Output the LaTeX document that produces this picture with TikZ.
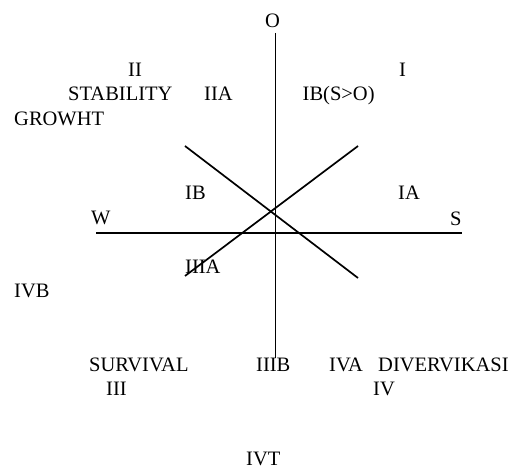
\documentclass[tikz,border=0pt]{standalone}
\usepackage{fontspec}
\setmainfont{Liberation Serif}
\begin{document}
\begin{tikzpicture}[x=1pt,y=-1pt,
  lbl/.style={anchor=base west,inner sep=0pt,font=\fontsize{20.5}{24}\selectfont},
  axis/.style={line width=1.7pt,black}]
\useasboundingbox (0,0) rectangle (520,470);
% axis end points
\coordinate (vt) at (275.5,33);
\coordinate (vb) at (275.5,358);
\coordinate (hl) at (96,233);
\coordinate (hr) at (462,233);
\coordinate (d1a) at (185,146);
\coordinate (d1b) at (358,278);
\coordinate (d2a) at (358,146);
\coordinate (d2b) at (185,276);
\draw[axis] (vt) -- (vb);
\draw[axis] (hl) -- (hr);
\draw[axis] (d1a) -- (d1b);
\draw[axis] (d2a) -- (d2b);
% labels
\node[lbl] (o) at (265,28) {O};
\node[lbl] (i) at (399,77) {I};
\node[lbl] (ibso) at (302.5,101) {IB(S>O)};
\node[lbl] (ii) at (128,77) {II};
\node[lbl] (stab) at (68,101) {STABILITY};
\node[lbl] (iia) at (204,101) {IIA};
\node[lbl] (grow) at (14,126) {GROWHT};
\node[lbl] (ib) at (185,200) {IB};
\node[lbl] (w) at (91,225) {W};
\node[lbl] (ia) at (398,200) {IA};
\node[lbl] (s) at (450,226) {S};
\node[lbl] (iiia) at (185,274) {IIIA};
\node[lbl] (ivb) at (14,298) {IVB};
\node[lbl] (surv) at (89,372) {SURVIVAL};
\node[lbl] (iiib) at (256,372) {IIIB};
\node[lbl] (iva) at (329,372) {IVA};
\node[lbl] (div) at (378,372) {DIVERVIKASI};
\node[lbl] (iii) at (106,396) {III};
\node[lbl] (iv) at (373,396) {IV};
\node[lbl] (ivt) at (246,466) {IVT};
\end{tikzpicture}
\end{document}
